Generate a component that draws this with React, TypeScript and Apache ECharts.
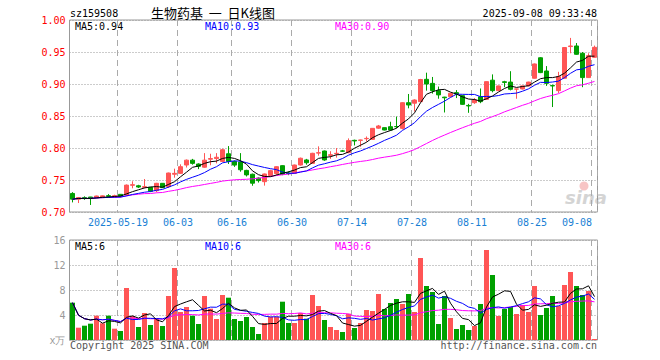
import * as echarts from 'echarts';
import { useEffect, useRef } from 'react';

const dates = [
  '2025-05-07','2025-05-08','2025-05-09','2025-05-12','2025-05-13','2025-05-14','2025-05-15','2025-05-16','2025-05-19','2025-05-20',
  '2025-05-21','2025-05-22','2025-05-23','2025-05-26','2025-05-27','2025-05-28','2025-05-29','2025-05-30','2025-06-03','2025-06-04',
  '2025-06-05','2025-06-06','2025-06-09','2025-06-10','2025-06-11','2025-06-12','2025-06-13','2025-06-16','2025-06-17','2025-06-18',
  '2025-06-19','2025-06-20','2025-06-23','2025-06-24','2025-06-25','2025-06-26','2025-06-27','2025-06-30','2025-07-01','2025-07-02',
  '2025-07-03','2025-07-04','2025-07-07','2025-07-08','2025-07-09','2025-07-10','2025-07-11','2025-07-14','2025-07-15','2025-07-16',
  '2025-07-17','2025-07-18','2025-07-21','2025-07-22','2025-07-23','2025-07-24','2025-07-25','2025-07-28','2025-07-29','2025-07-30',
  '2025-07-31','2025-08-01','2025-08-04','2025-08-05','2025-08-06','2025-08-07','2025-08-08','2025-08-11','2025-08-12','2025-08-13',
  '2025-08-14','2025-08-15','2025-08-18','2025-08-19','2025-08-20','2025-08-21','2025-08-22','2025-08-25','2025-08-26','2025-08-27',
  '2025-08-28','2025-08-29','2025-09-01','2025-09-02','2025-09-03','2025-09-04','2025-09-05','2025-09-08'
];

const opens = [
  0.729,0.720,0.7225,0.7234,0.722,0.7225,0.7255,0.723,0.7276,0.7266,
  0.7417,0.741,0.7385,0.7385,0.7333,0.7448,0.7396,0.759,0.7604,0.7734,
  0.781,0.775,0.770,0.7825,0.7835,0.779,0.791,0.779,0.778,0.765,
  0.759,0.753,0.7474,0.757,0.760,0.7724,0.761,0.7604,0.7734,0.7813,
  0.776,0.792,0.7953,0.7885,0.791,0.7955,0.7927,0.812,0.812,0.8145,
  0.8135,0.831,0.8318,0.8333,0.8335,0.8307,0.8708,0.870,0.8724,0.9073,
  0.901,0.8896,0.8795,0.8802,0.8865,0.8818,0.8665,0.8708,0.880,0.876,
  0.906,0.8896,0.9035,0.903,0.892,0.8922,0.897,0.909,0.941,0.9203,
  0.8975,0.8896,0.909,0.9585,0.9594,0.948,0.910,0.9417
];
const closes = [
  0.720,0.7225,0.721,0.7214,0.725,0.7252,0.7245,0.7255,0.7245,0.742,
  0.7427,0.739,0.7396,0.7323,0.7448,0.738,0.7609,0.7604,0.7708,0.781,
  0.776,0.7713,0.781,0.7835,0.7855,0.7973,0.779,0.7733,0.766,0.758,
  0.745,0.749,0.7594,0.7646,0.7708,0.7589,0.760,0.7734,0.784,0.777,
  0.7917,0.7927,0.7813,0.7895,0.7917,0.795,0.8115,0.811,0.8125,0.815,
  0.8307,0.8344,0.8281,0.8281,0.8333,0.8708,0.8672,0.875,0.907,0.900,
  0.8896,0.883,0.8785,0.8855,0.8845,0.8682,0.8657,0.875,0.8724,0.9037,
  0.8896,0.897,0.9025,0.8917,0.8922,0.897,0.903,0.9313,0.9178,0.901,
  0.897,0.9115,0.957,0.9594,0.9464,0.910,0.9443,0.9573
];
const lows = [
  0.715,0.714,0.719,0.711,0.7215,0.722,0.722,0.7225,0.723,0.725,
  0.737,0.7375,0.737,0.731,0.731,0.7375,0.7375,0.7536,0.7595,0.7695,
  0.774,0.767,0.769,0.773,0.776,0.778,0.775,0.7705,0.763,0.7555,
  0.741,0.746,0.7412,0.755,0.758,0.7575,0.7575,0.7595,0.7725,0.774,
  0.775,0.788,0.780,0.783,0.785,0.794,0.792,0.804,0.802,0.810,
  0.813,0.830,0.8275,0.827,0.831,0.829,0.862,0.857,0.872,0.8896,
  0.885,0.877,0.8555,0.8795,0.878,0.8675,0.855,0.869,0.870,0.875,
  0.887,0.889,0.895,0.890,0.877,0.8915,0.8965,0.9085,0.917,0.897,
  0.864,0.886,0.9085,0.948,0.9455,0.895,0.9095,0.941
];
const highs = [
  0.731,0.723,0.7245,0.7236,0.7255,0.7258,0.728,0.727,0.728,0.743,
  0.748,0.7425,0.7515,0.7385,0.7455,0.745,0.7615,0.7677,0.7745,0.782,
  0.783,0.776,0.792,0.791,0.792,0.799,0.803,0.7805,0.792,0.766,
  0.760,0.754,0.760,0.766,0.7715,0.773,0.7635,0.774,0.785,0.783,
  0.7925,0.8026,0.796,0.795,0.800,0.797,0.815,0.813,0.813,0.818,
  0.831,0.836,0.832,0.841,0.849,0.8715,0.8844,0.876,0.908,0.9177,
  0.911,0.896,0.880,0.886,0.8905,0.8825,0.869,0.878,0.893,0.904,
  0.915,0.8975,0.905,0.920,0.8925,0.8975,0.9035,0.932,0.942,0.928,
  0.899,0.919,0.9575,0.972,0.964,0.950,0.948,0.960
];
const volumes = [
  5.97,1.97,2.29,2.61,3.89,2.67,3.89,1.81,1.44,8.32,
  3.84,2.08,4.32,2.4,3.52,2.24,7.04,11.52,4.48,5.28,
  3.89,2.56,7.04,5.01,3.36,7.2,6.77,3.36,3.04,3.68,
  2.08,0.96,2.72,3.73,3.73,6.13,2.72,2.72,4.32,3.41,
  7.2,5.44,3.2,2.08,1.6,1.28,4.21,1.92,2.72,4.8,
  4.64,7.36,4.96,5.92,6.56,5.76,7.36,4.48,13.12,8.64,
  7.68,2.56,7.04,3.52,1.76,2.4,1.6,2.24,5.76,14.4,
  10.4,3.84,4.96,5.28,4.16,5.6,4.48,8.64,4.0,5.12,
  7.04,5.44,8.8,10.88,8.64,7.2,7.84,0.16
];

const tickDates = ['2025-05-19','2025-06-03','2025-06-16','2025-06-30','2025-07-14','2025-07-28','2025-08-11','2025-08-25','2025-09-08'];
const tickLabels = ['2025-05-19','06-03','06-16','06-30','07-14','07-28','08-11','08-25','09-08'];
const priceTicks = [0.70, 0.75, 0.80, 0.85, 0.90, 0.95, 1.00];
const volumeTicks = [0, 4, 8, 12, 16];

const MONO = '"DejaVu Sans Mono", "Liberation Mono", monospace';
const RED = '#ff5555';
const GREEN = '#00a000';
const BLUE_LABEL = '#1a7fd4';

function movingAvg(arr: number[], n: number) {
  return arr.map((_, i) => {
    const s = Math.max(0, i - n + 1);
    let sum = 0;
    for (let k = s; k <= i; k++) sum += arr[k];
    return +(sum / (i - s + 1)).toFixed(4);
  });
}

function txt(text: string, x: number, y: number, fill: string, align = 'left', font = '10px ' + MONO, lineHeight = 11) {
  return {
    type: 'text',
    silent: true,
    style: { text, x, y, fill, font, lineHeight, align, verticalAlign: 'middle', textAlign: align, textVerticalAlign: 'middle' },
  };
}

export default function App() {
  const ref = useRef<HTMLDivElement>(null);
  useEffect(() => {
    const chart = echarts.init(ref.current!, null, { renderer: 'svg' });
    const tickIdx = tickDates.map((d) => dates.indexOf(d));
    const lastIdx = tickIdx[tickIdx.length - 1];
    const candles = dates.map((_, i) => [opens[i], closes[i], lows[i], highs[i]]);
    const volData = volumes.map((v, i) => ({
      value: v,
      itemStyle: { color: closes[i] >= opens[i] ? RED : GREEN },
    }));
    const gridLeft = 69.5;
    const gridW = 6 * dates.length;
    const split = {
      show: true,
      interval: (i: number) => tickIdx.includes(i),
      lineStyle: { type: [6, 4], color: '#aaa', width: 1 },
    };
    const lineS = (name: string, data: number[], color: string, xi: number) => ({
      name,
      type: 'line',
      xAxisIndex: xi,
      yAxisIndex: xi,
      data,
      symbol: 'none',
      lineStyle: { width: 1, color },
      silent: true,
      z: 3,
    });
    chart.setOption({
      animation: false,
      backgroundColor: '#fff',
      grid: [
        { left: gridLeft, top: 20, width: gridW, height: 192, show: true, borderColor: '#999', borderWidth: 1 },
        { left: gridLeft, top: 240, width: gridW, height: 100, show: true, borderColor: '#999', borderWidth: 1 },
      ],
      xAxis: [
        {
          type: 'category',
          gridIndex: 0,
          data: dates,
          boundaryGap: true,
          axisLine: { show: false },
          axisTick: { show: false },
          axisLabel: {
            interval: (i: number) => tickIdx.includes(i),
            formatter: (_v: string, i: number) => {
              const k = tickIdx.indexOf(i);
              const lab = k >= 0 ? tickLabels[k] : '';
              return i === lastIdx ? `{last|${lab}}` : lab;
            },
            color: BLUE_LABEL,
            fontFamily: MONO,
            fontSize: 10,
            margin: 5,
            padding: [0, 5, 0, 0],
            rich: { last: { padding: [0, 30, 0, 0], fontFamily: MONO, fontSize: 10, color: BLUE_LABEL } },
          },
          splitLine: split,
        },
        {
          type: 'category',
          gridIndex: 1,
          data: dates,
          boundaryGap: true,
          axisLine: { show: false },
          axisTick: { show: false },
          axisLabel: { show: false },
          splitLine: split,
        },
      ],
      yAxis: [
        {
          type: 'value',
          gridIndex: 0,
          min: priceTicks[0],
          max: priceTicks[priceTicks.length - 1],
          interval: 0.05,
          axisLine: { show: false },
          axisTick: { show: false },
          axisLabel: { color: '#ff0000', fontFamily: MONO, fontSize: 10, margin: 4, formatter: (v: number) => v.toFixed(2) },
          splitLine: { show: true, lineStyle: { type: [1, 2], color: '#999' } },
        },
        {
          type: 'value',
          gridIndex: 1,
          min: volumeTicks[0],
          max: volumeTicks[volumeTicks.length - 1],
          interval: 4,
          axisLine: { show: false },
          axisTick: { show: false },
          axisLabel: {
            color: '#999',
            fontFamily: MONO,
            fontSize: 10,
            margin: 4,
            formatter: (v: number) => (v === 0 ? 'x万' : String(v)),
          },
          splitLine: { show: true, lineStyle: { type: [1, 2], color: '#999' } },
        },
      ],
      graphic: [
        { type: 'text', silent: true, z: -1, style: { text: 'sina', x: 565, y: 197, fill: '#d4d4d4', font: 'italic bold 18px "DejaVu Sans"', textAlign: 'left', textVerticalAlign: 'middle', align: 'left', verticalAlign: 'middle' } },
        { type: 'circle', silent: true, z: -1, shape: { cx: 584, cy: 186, r: 4.5 }, style: { fill: 'rgba(240,150,150,0.55)' } },
        txt('sz159508', 70, 13, '#000'),
        txt('生物药基\u00a0\u00a0一\u00a0\u00a0日K线图', 213, 12.5, '#000', 'center', '13px "Noto Sans CJK SC"', 12),
        txt('2025-09-08 09:33:48', 597, 13, '#000', 'right'),
        txt('MA5:0.94', 75, 26.5, '#000'),
        txt('MA10:0.93', 205, 26.5, '#0000ff'),
        txt('MA30:0.90', 335, 26.5, '#ff00ff'),
        txt('MA5:6', 75, 246.5, '#000'),
        txt('MA10:6', 205, 246.5, '#0000ff'),
        txt('MA30:6', 335, 246.5, '#ff00ff'),
        txt('Copyright 2025 SINA.COM', 70, 345.5, '#555'),
        txt('http://finance.sina.com.cn', 597, 345.5, '#555', 'right'),
      ],
      series: [
        {
          type: 'candlestick',
          xAxisIndex: 0,
          yAxisIndex: 0,
          data: candles,
          barWidth: 5,
          silent: true,
          itemStyle: { color: RED, color0: GREEN, borderColor: RED, borderColor0: GREEN, borderWidth: 1 },
        },
        lineS('MA30', movingAvg(closes, 30), '#ff00ff', 0),
        lineS('MA10', movingAvg(closes, 10), '#0000ff', 0),
        lineS('MA5', movingAvg(closes, 5), '#000000', 0),
        {
          type: 'bar',
          xAxisIndex: 1,
          yAxisIndex: 1,
          data: volData,
          barWidth: 5,
          silent: true,
        },
        lineS('VMA30', movingAvg(volumes, 30), '#ff00ff', 1),
        lineS('VMA10', movingAvg(volumes, 10), '#0000ff', 1),
        lineS('VMA5', movingAvg(volumes, 5), '#000000', 1),
      ],
    });
    return () => chart.dispose();
  }, []);
  return (
    <div
      ref={ref}
      style={{ position: 'fixed', left: 0, top: 0, width: 660, height: 360, background: '#fff' }}
    />
  );
}
